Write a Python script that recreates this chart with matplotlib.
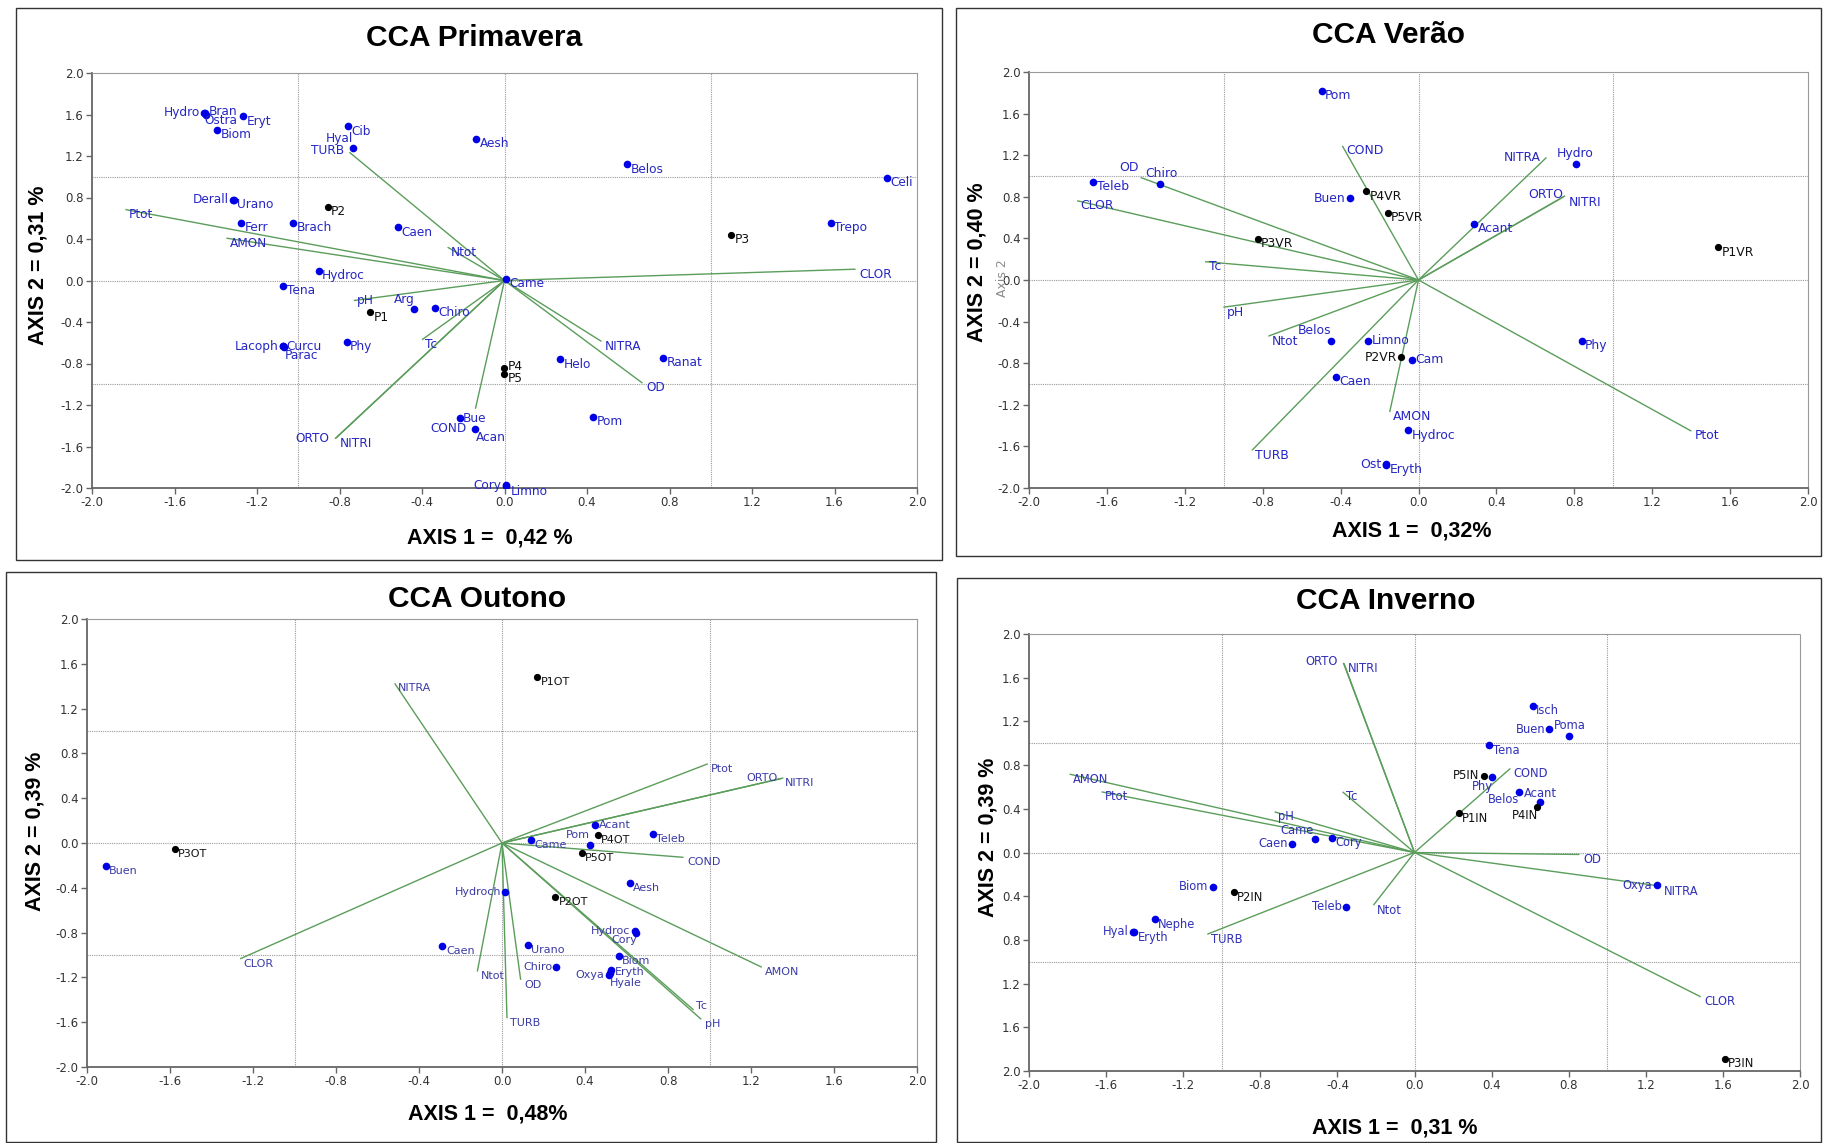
import matplotlib
matplotlib.use("Agg")
import matplotlib.pyplot as plt
from matplotlib.patches import Rectangle
import numpy as np

W, H = 1823, 1143

# ---------------- CCA Primavera ----------------
PRIM_SPP = ["Hydro", "Bran", "Ostra", "Eryt", "Biom", "Cib", "Hyal", "Derall", "Urano",
            "Ferr", "Brach", "Hydroc", "Tena", "Lacoph", "Curcu", "Parac", "Phy", "Aesh",
            "Belos", "Caen", "Came", "Arg", "Chiro", "Helo", "Bue", "Acan", "Pom", "Cory",
            "Limno", "Celi", "Trepo", "Ranat"]
PRIM_SPP_X = [-1.457, -1.452, -1.445, -1.266, -1.392, -0.760, -0.734, -1.316, -1.312,
              -1.277, -1.024, -0.901, -1.073, -1.076, -1.072, -1.070, -0.765, -0.136,
              0.593, -0.517, 0.008, -0.438, -0.337, 0.269, -0.217, -0.144, 0.431, 0.006,
              0.008, 1.853, 1.583, 0.770]
PRIM_SPP_Y = [1.615, 1.612, 1.600, 1.583, 1.454, 1.486, 1.278, 0.780, 0.778,
              0.555, 0.555, 0.096, -0.051, -0.636, -0.634, -0.640, -0.594, 1.368,
              1.120, 0.514, 0.019, -0.279, -0.266, -0.761, -1.326, -1.429, -1.316, -1.974,
              -1.976, 0.992, 0.555, -0.745]
PRIM_SITES = ["P1", "P2", "P3", "P4", "P5"]
PRIM_SITES_X = [-0.650, -0.857, 1.100, -0.003, -0.003]
PRIM_SITES_Y = [-0.305, 0.713, 0.443, -0.841, -0.899]
PRIM_ENV = ["TURB", "Ptot", "AMON", "pH", "ORTO", "NITRI", "Ntot", "Tc", "NITRA", "OD",
            "COND", "CLOR"]
PRIM_ENV_X = [-0.752, -1.838, -1.348, -0.731, -0.822, -0.817, -0.276, -0.400, 0.470, 0.669,
              -0.141, 1.702]
PRIM_ENV_Y = [1.236, 0.684, 0.408, -0.193, -1.525, -1.519, 0.321, -0.571, -0.587, -0.989,
              -1.236, 0.109]

# ---------------- CCA Verão ----------------
VER_SPP = ["Teleb", "Chiro", "Pom", "Buen", "Hydro", "Acant", "Belos", "Limno", "Cam",
           "Caen", "Hydroc", "Ost", "Eryth", "Phy"]
VER_SPP_X = [-1.671, -1.329, -0.497, -0.353, 0.807, 0.287, -0.447, -0.259, -0.032,
             -0.425, -0.053, -0.169, -0.165, 0.838]
VER_SPP_Y = [0.947, 0.922, 1.818, 0.787, 1.114, 0.538, -0.582, -0.582, -0.765,
             -0.928, -1.446, -1.773, -1.776, -0.582]
VER_SITES = ["P1VR", "P2VR", "P3VR", "P4VR", "P5VR"]
VER_SITES_X = [1.538, -0.089, -0.826, -0.268, -0.159]
VER_SITES_Y = [0.314, -0.742, 0.394, 0.851, 0.643]
VER_ENV = ["OD", "CLOR", "Tc", "pH", "Ntot", "TURB", "COND", "NITRA", "ORTO", "NITRI",
           "AMON", "Ptot"]
VER_ENV_X = [-1.427, -1.753, -1.096, -1.002, -0.771, -0.855, -0.391, 0.657, 0.753, 0.745,
             -0.148, 1.401]
VER_ENV_Y = [0.986, 0.762, 0.176, -0.262, -0.540, -1.638, 1.290, 1.178, 0.810, 0.800,
             -1.270, -1.453]

# ---------------- CCA Outono ----------------
OUT_SPP = ["Buen", "Acant", "Pom", "Came", "Teleb", "Hydroch", "Aesh", "Hydroc", "Cory",
           "Caen", "Urano", "Biom", "Chiro", "Oxya", "Eryth", "Hyale"]
OUT_SPP_X = [-1.909, 0.449, 0.425, 0.141, 0.726, 0.016, 0.615, 0.639, 0.644,
             -0.287, 0.125, 0.563, 0.262, 0.515, 0.526, 0.520]
OUT_SPP_Y = [-0.209, 0.158, -0.015, 0.030, 0.080, -0.435, -0.358, -0.784, -0.805,
             -0.918, -0.909, -1.013, -1.103, -1.177, -1.133, -1.160]
OUT_SITES = ["P1OT", "P2OT", "P3OT", "P4OT", "P5OT"]
OUT_SITES_X = [0.169, 0.257, -1.578, 0.462, 0.385]
OUT_SITES_Y = [1.484, -0.486, -0.051, 0.069, -0.089]
OUT_ENV = ["NITRA", "CLOR", "Ptot", "ORTO", "NITRI", "COND", "AMON", "Tc", "pH", "Ntot",
           "OD", "TURB"]
OUT_ENV_X = [-0.517, -1.262, 0.992, 1.356, 1.345, 0.875, 1.252, 0.923, 0.960, -0.119,
             0.090, 0.024]
OUT_ENV_Y = [1.425, -1.034, 0.707, 0.581, 0.575, -0.128, -1.109, -1.490, -1.574, -1.148,
             -1.222, -1.565]

# ---------------- CCA Inverno ----------------
INV_SPP = ["Caen", "Came", "Cory", "Biom", "Nephe", "Hyal", "Eryth", "Teleb", "Isch",
           "Buen", "Poma", "Tena", "Phy", "Acant", "Belos", "Oxya"]
INV_SPP_X = [-0.636, -0.516, -0.426, -1.047, -1.347, -1.459, -1.455, -0.355, 0.614,
             0.700, 0.804, 0.388, 0.402, 0.541, 0.650, 1.256]
INV_SPP_Y = [0.082, 0.119, 0.134, -0.314, -0.613, -0.726, -0.730, -0.497, 1.343,
             1.126, 1.068, 0.980, 0.693, 0.555, 0.458, -0.299]
INV_SITES = ["P1IN", "P2IN", "P3IN", "P4IN", "P5IN"]
INV_SITES_X = [0.229, -0.939, 1.610, 0.636, 0.359]
INV_SITES_Y = [0.357, -0.366, -1.886, 0.418, 0.702]
INV_ENV = ["AMON", "Ptot", "pH", "TURB", "ORTO", "NITRI", "Tc", "COND", "Ntot", "OD",
           "NITRA", "CLOR"]
INV_ENV_X = [-1.789, -1.624, -0.726, -1.075, -0.369, -0.366, -0.373, 0.497, -0.213, 0.856,
             1.277, 1.485]
INV_ENV_Y = [0.717, 0.555, 0.372, -0.748, 1.736, 1.732, 0.555, 0.769, -0.482, -0.018,
             -0.308, -1.321]

# label placement: offset in points from the mark and horizontal alignment
OFFS = {
    "r": (2.5, -3.5, "left"),
    "rc": (2.5, 0, "left"),
    "l": (-3, 0, "right"),
    "la": (0, 7, "right"),
    "a": (0, 7.5, "center"),
    "rb": (0.5, -6.5, "left"),
}

PRIM_LABELS = {"Hydro": "l", "Bran": (2.5, 1), "Ostra": (-1.8, -4.5), "Hyal": "la",
               "TURB": (-4, 1.5, "right"), "Derall": "l", "pH": "rc", "Lacoph": "l",
               "Curcu": "rc", "Parac": "rb", "ORTO": (-4, 0, "right"), "NITRI": (3, -4),
               "Arg": "la", "P4": (2.5, 1), "Bue": "rc", "COND": (-6, -14, "right"),
               "Acan": "rb", "Cory": "l", "Limno": (3, -4)}
VER_LABELS = {"OD": (-1, 7, "right"), "Chiro": (1.5, 8, "center"), "Buen": "l",
              "NITRA": (-4, 0, "right"), "Hydro": "a", "ORTO": (-1.5, 1, "right"),
              "NITRI": (3.5, -4.3), "Belos": "la", "Limno": "rc", "P2VR": "l",
              "Cam": "rc", "Ost": "l"}
OUT_LABELS = {"Acant": "rc", "Pom": "la", "Hydroch": "l", "Hydroc": "l",
              "Cory": (1, -5, "right"), "Chiro": "l", "Oxya": "l", "Eryth": (2.5, -1.5),
              "Hyale": (0, -7.5), "ORTO": (-4, 0, "right"), "Tc": (2, 3)}
INV_LABELS = {"Caen": "l", "Biom": "l", "Hyal": "l", "ORTO": (-4, 1, "right"),
              "Buen": "l", "Poma": "a", "P5IN": "l", "Phy": (1, -7, "right"),
              "Acant": (3.5, -1.5), "Belos": (-15, 2, "right"), "P4IN": (0.5, -6, "right"),
              "Came": (-1, 6.5, "right"), "Teleb": "l", "Oxya": "l"}

PANELS = [
    dict(title="CCA Primavera", xlab="AXIS 1 =  0,42 %", ylab="AXIS 2 = 0,31 %",
         spp=(PRIM_SPP, PRIM_SPP_X, PRIM_SPP_Y), sites=(PRIM_SITES, PRIM_SITES_X, PRIM_SITES_Y),
         env=(PRIM_ENV, PRIM_ENV_X, PRIM_ENV_Y), labels=PRIM_LABELS,
         axes=(92, 73, 917, 488), frame=(16, 8, 942, 560), title_xy=(474, 38),
         xlab_xy=(490, 538), ylab_xy=(38, 265), fs=8.7, tcol="#2626c4", negy=True),
    dict(title="CCA Verão", xlab="AXIS 1 =  0,32%", ylab="AXIS 2 = 0,40 %",
         spp=(VER_SPP, VER_SPP_X, VER_SPP_Y), sites=(VER_SITES, VER_SITES_X, VER_SITES_Y),
         env=(VER_ENV, VER_ENV_X, VER_ENV_Y), labels=VER_LABELS,
         axes=(1029, 72, 1808, 488), frame=(956, 8, 1821, 556), title_xy=(1389, 35),
         xlab_xy=(1412, 531), ylab_xy=(977, 262), fs=8.9, tcol="#2626c4", negy=True),
    dict(title="CCA Outono", xlab="AXIS 1 =  0,48%", ylab="AXIS 2 = 0,39 %",
         spp=(OUT_SPP, OUT_SPP_X, OUT_SPP_Y), sites=(OUT_SITES, OUT_SITES_X, OUT_SITES_Y),
         env=(OUT_ENV, OUT_ENV_X, OUT_ENV_Y), labels=OUT_LABELS,
         axes=(87, 619, 917, 1067), frame=(6, 572, 936, 1142), title_xy=(477, 599),
         xlab_xy=(488, 1114), ylab_xy=(35, 831), fs=8.0, tcol="#3b3ba6", negy=True),
    dict(title="CCA Inverno", xlab="AXIS 1 =  0,31 %", ylab="AXIS 2 = 0,39 %",
         spp=(INV_SPP, INV_SPP_X, INV_SPP_Y), sites=(INV_SITES, INV_SITES_X, INV_SITES_Y),
         env=(INV_ENV, INV_ENV_X, INV_ENV_Y), labels=INV_LABELS,
         axes=(1029, 634, 1800, 1071), frame=(957, 578, 1821, 1142), title_xy=(1386, 601),
         xlab_xy=(1395, 1128), ylab_xy=(988, 837), fs=8.3, tcol="#3030b8", negy=False),
]

GREEN = "#5b9d5b"
GRIDC = "#9a9a9a"
# adding 0.0 turns a rounded -0.0 into 0.0
TICKS = np.round(np.arange(-2.0, 2.01, 0.4), 1) + 0.0


def _place(labels, name):
    spec = labels.get(name, "r")
    if isinstance(spec, str):
        return OFFS[spec]
    if len(spec) == 2:
        return (spec[0], spec[1], "left")
    return spec


def draw_cca(fig, p):
    x0, y0, x1, y1 = p["axes"]
    ax = fig.add_axes([x0 / W, 1 - y1 / H, (x1 - x0) / W, (y1 - y0) / H])
    ax.set_xlim(-2, 2)
    ax.set_ylim(-2, 2)

    for v in (-1, 0, 1):
        ax.axvline(v, color=GRIDC, lw=0.8, ls=(0, (1, 1)), zorder=1)
        ax.axhline(v, color=GRIDC, lw=0.8, ls=(0, (1, 1)), zorder=1)

    for side in ("top", "right"):
        ax.spines[side].set_color(GRIDC)
        ax.spines[side].set_linestyle((0, (1, 1)))
        ax.spines[side].set_linewidth(0.8)
    for side in ("left", "bottom"):
        ax.spines[side].set_color("#666666")
        ax.spines[side].set_linewidth(1.3)

    ax.set_xticks(TICKS)
    ax.set_yticks(TICKS)
    ax.set_xticklabels([f"{t:.1f}" for t in TICKS])
    if p["negy"]:
        ax.set_yticklabels([f"{t:.1f}" for t in TICKS])
    else:
        ax.set_yticklabels([f"{abs(t):.1f}" for t in TICKS])
    ax.tick_params(direction="out", length=4, width=1, color="#666666",
                   labelsize=8.5, labelcolor="#333333", pad=2)

    labels = p["labels"]
    fs = p["fs"]

    # environmental vectors
    names, xs, ys = p["env"]
    for n, x, y in zip(names, xs, ys):
        ax.plot([0, x], [0, y], color=GREEN, lw=1.0, zorder=2, solid_capstyle="butt")
        dx, dy, ha = _place(labels, n)
        ax.annotate(n, (x, y), xytext=(dx, dy), textcoords="offset points",
                    ha=ha, va="center", fontsize=fs, color=p["tcol"], zorder=4)

    # species scores
    names, xs, ys = p["spp"]
    ax.plot(xs, ys, "o", ms=5.5, color="#0000e6", mec="none", zorder=3)
    for n, x, y in zip(names, xs, ys):
        dx, dy, ha = _place(labels, n)
        ax.annotate(n, (x, y), xytext=(dx, dy), textcoords="offset points",
                    ha=ha, va="center", fontsize=fs, color=p["tcol"], zorder=4)

    # sampling sites
    names, xs, ys = p["sites"]
    ax.plot(xs, ys, "o", ms=5.2, color="black", mec="none", zorder=3)
    for n, x, y in zip(names, xs, ys):
        dx, dy, ha = _place(labels, n)
        ax.annotate(n, (x, y), xytext=(dx, dy), textcoords="offset points",
                    ha=ha, va="center", fontsize=fs, color="#111111", zorder=4)

    fx0, fy0, fx1, fy1 = p["frame"]
    fig.add_artist(Rectangle((fx0 / W, 1 - fy1 / H), (fx1 - fx0) / W, (fy1 - fy0) / H,
                             transform=fig.transFigure, fill=False, lw=1.0, ec="#333333"))

    tx, ty = p["title_xy"]
    fig.text(tx / W, 1 - ty / H, p["title"], ha="center", va="center",
             fontsize=21.5, fontweight="bold", family="Liberation Sans")
    lx, ly = p["xlab_xy"]
    fig.text(lx / W, 1 - ly / H, p["xlab"], ha="center", va="center",
             fontsize=15.5, fontweight="bold", family="Liberation Sans")
    lx, ly = p["ylab_xy"]
    fig.text(lx / W, 1 - ly / H, p["ylab"], ha="center", va="center", rotation=90,
             fontsize=15.5, fontweight="bold", family="Liberation Sans")
    return ax


fig = plt.figure(figsize=(W / 100, H / 100), dpi=100)
fig.patch.set_facecolor("white")
for p in PANELS:
    draw_cca(fig, p)

# leftover default axis caption from the ordination software
fig.text(1003 / W, 1 - 278 / H, "Axis 2", rotation=90, ha="center", va="center",
         fontsize=9, color="#8a8a8a")

fig.savefig("out.png", dpi=100)
